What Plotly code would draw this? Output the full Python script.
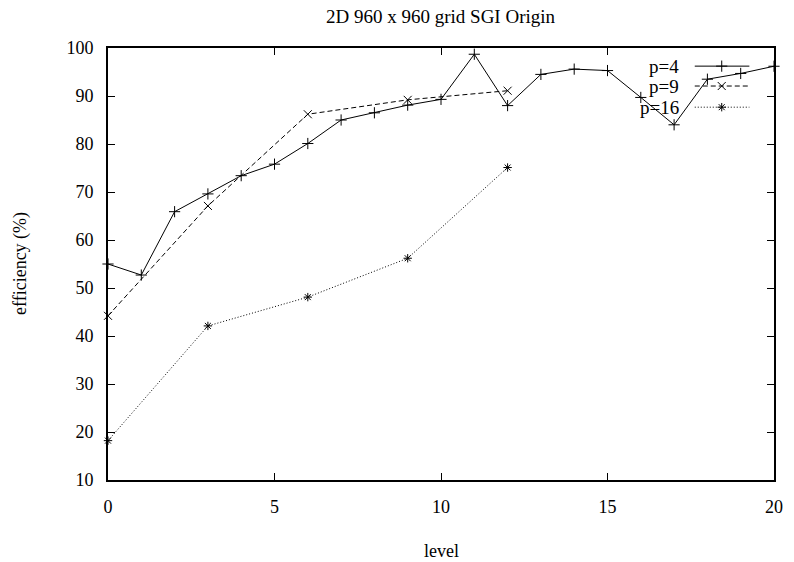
import plotly.graph_objects as go

# ---- data ----
p4_level = list(range(0, 21))
p4_eff = [55.0, 52.7, 65.9, 69.6, 73.4, 75.8, 80.1, 85.0, 86.5, 88.1, 89.3,
          98.7, 88.0, 94.5, 95.6, 95.3, 89.7, 84.0, 93.5, 94.7, 96.2]
p9_level = [0, 3, 6, 9, 12]
p9_eff = [44.2, 67.1, 86.2, 89.2, 91.1]
p16_level = [0, 3, 6, 9, 12]
p16_eff = [18.2, 42.1, 48.1, 56.2, 75.1]

series_names = ["p=4", "p=9", "p=16"]
x_ticks = [0, 5, 10, 15, 20]
y_ticks = [10, 20, 30, 40, 50, 60, 70, 80, 90, 100]

FONT = "Liberation Serif, Times New Roman, serif"
styles = [
    dict(dash="solid", symbol="cross-thin", size=8),
    dict(dash="5px,3px", symbol="x-thin", size=8),
    dict(dash="1px,2px", symbol="asterisk", size=7),
]
datasets = [(p4_level, p4_eff), (p9_level, p9_eff), (p16_level, p16_eff)]

fig = go.Figure()
for (xs, ys), st, name in zip(datasets, styles, series_names):
    fig.add_trace(go.Scatter(
        x=xs, y=ys, mode="lines+markers", name=name, showlegend=False,
        cliponaxis=False,
        line=dict(color="black", width=1, dash=st["dash"]),
        marker=dict(symbol=st["symbol"], size=st["size"], color="black",
                    line=dict(color="black", width=1)),
    ))

# ---- gnuplot-style key (text left, sample right) on an overlay axis ----
key_rows = [0.958, 0.912, 0.863]
key_text_x = 0.861
key_line_x = [0.881, 0.963]
key_mark_x = 0.9215
for st, name, ky in zip(styles, series_names, key_rows):
    fig.add_trace(go.Scatter(
        x=key_line_x, y=[ky, ky], mode="lines", xaxis="x2", yaxis="y2",
        showlegend=False, hoverinfo="skip",
        line=dict(color="black", width=1, dash=st["dash"]),
    ))
    fig.add_trace(go.Scatter(
        x=[key_mark_x], y=[ky], mode="markers", xaxis="x2", yaxis="y2",
        showlegend=False, hoverinfo="skip",
        marker=dict(symbol=st["symbol"], size=st["size"], color="black",
                    line=dict(color="black", width=1)),
    ))
    fig.add_annotation(x=key_text_x, y=ky, xref="x2", yref="y2", text=name,
                       showarrow=False, xanchor="right", yanchor="middle",
                       font=dict(family=FONT, size=19, color="black"))

axis_common = dict(
    showline=True, linecolor="black", linewidth=2, mirror="ticks",
    ticks="inside", ticklen=7, tickwidth=1, tickcolor="black",
    showgrid=False, zeroline=False,
    tickfont=dict(family=FONT, size=18, color="black"),
)

fig.update_layout(
    width=794, height=562,
    margin=dict(l=108, r=11, t=48, b=82),
    paper_bgcolor="white", plot_bgcolor="white",
    showlegend=False,
    xaxis=dict(range=[0, 20], tickvals=x_ticks, ticklabelstandoff=9, **axis_common),
    yaxis=dict(range=[10, 100], tickvals=y_ticks, ticklabelstandoff=9, **axis_common),
    xaxis2=dict(range=[0, 1], overlaying="x", visible=False, fixedrange=True),
    yaxis2=dict(range=[0, 1], overlaying="y", visible=False, fixedrange=True),
    annotations=list(fig.layout.annotations) + [
        dict(text="2D 960 x 960 grid SGI Origin", xref="paper", yref="paper",
             x=0.5, y=1, yshift=32, showarrow=False, xanchor="center", yanchor="middle",
             font=dict(family=FONT, size=19, color="black")),
        dict(text="level", xref="paper", yref="paper", x=0.5, y=0, yshift=-71,
             showarrow=False, xanchor="center", yanchor="middle",
             font=dict(family=FONT, size=18, color="black")),
        dict(text="efficiency (%)", xref="paper", yref="paper", x=0, xshift=-88, y=0.5,
             textangle=-90, showarrow=False, xanchor="center", yanchor="middle",
             font=dict(family=FONT, size=18, color="black")),
    ],
)

fig.write_html(
    "out.html",
    config={"displayModeBar": False},
    post_script="document.body.style.margin='0';document.body.style.overflow='hidden';",
)
